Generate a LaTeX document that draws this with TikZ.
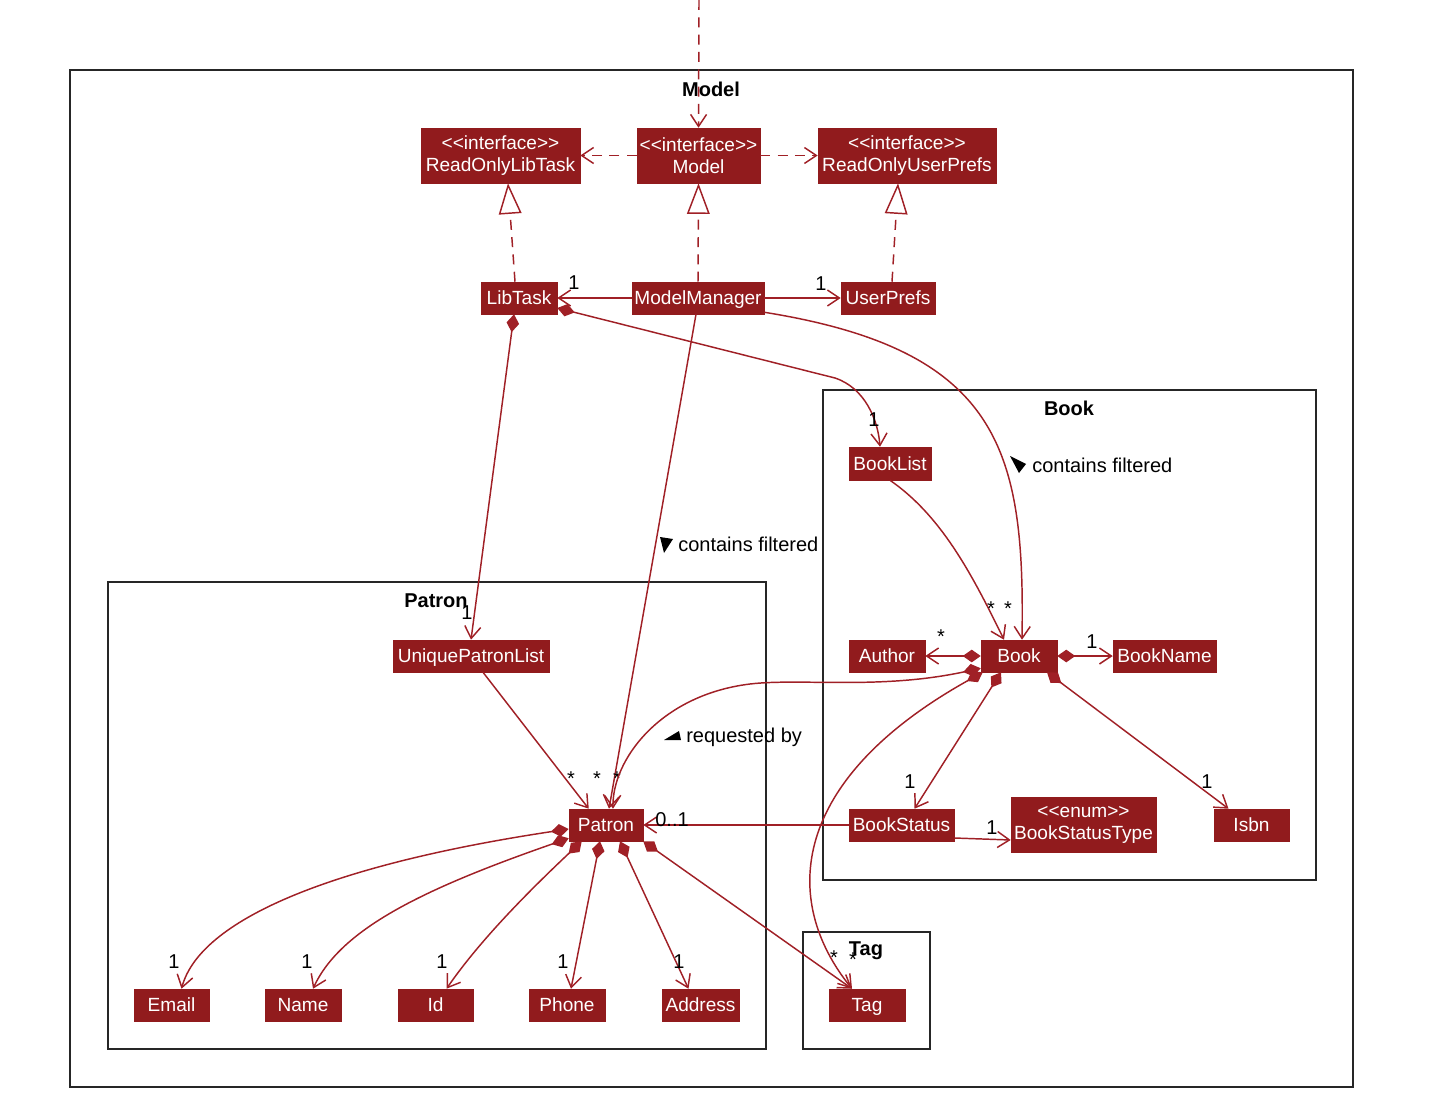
\documentclass[tikz,border=0pt]{standalone}
\usepackage{fontspec}
\setmainfont{Liberation Sans}
\usetikzlibrary{arrows.meta,calc}
\definecolor{umlfill}{RGB}{145,27,29}
\definecolor{umlline}{RGB}{160,32,38}
\newcommand{\stereo}[1]{\textless\kern0pt\textless\kern0pt #1\kern0pt\textgreater\kern0pt\textgreater}
\begin{document}
\begin{tikzpicture}[x=0.75pt,y=-0.75pt,
  cls2/.style={fill=umlfill, draw=umlfill, text=white, font=\fontsize{14.3}{16.5}\selectfont,
    inner sep=0pt, minimum height=41.25pt, align=center},
  cls/.style={fill=umlfill, draw=umlfill, text=white, font=\fontsize{14.3}{16.5}\selectfont,
    inner sep=0pt, minimum height=24pt, text height=10.3pt, text depth=0.5pt},
  pkg/.style={draw=black!85, line width=1.5pt},
  ptitle/.style={font=\fontsize{15}{17}\selectfont\bfseries, text=black, inner sep=0pt},
  lbl/.style={font=\fontsize{15}{17}\selectfont, text=black, inner sep=0pt},
  conn/.style={draw=umlline, line width=1.1pt},
  dep/.style={conn, dash pattern=on 7.5pt off 5.5pt},
  va/.style={-{Straight Barb[length=9pt,width=12pt]}},
  comp/.style={{Diamond[length=13.5pt,width=9.5pt]}-{Straight Barb[length=9pt,width=12pt]}},
  real/.style={-{Triangle[open,length=23pt,width=17pt,fill=white]}},
  tri/.style={fill=black}
]
\useasboundingbox (0,0) rectangle (1430,1116);

% packages
\draw[pkg] (70,70) rectangle (1353,1087);
\node[ptitle] (tModel) at (711,89) {Model};
\draw[pkg] (823,390) rectangle (1316,880);
\node[ptitle] (tBook) at (1069,408) {Book};
\draw[pkg] (108,582) rectangle (766,1049);
\node[ptitle] (tPatron) at (436,601) {Patron};
\draw[pkg] (803,932) rectangle (930,1049);
\node[ptitle] (tTag) at (866,951) {Tag};

% classes
\node[cls2, minimum width=119.25pt] (rolt) at (500.5,155.5) {\stereo{interface}\\ReadOnlyLibTask};
\node[cls2, minimum width=92.25pt] (model) at (698.5,155.5) {\stereo{interface}\\Model};
\node[cls2, minimum width=133.5pt] (roup) at (907,155.5) {\stereo{interface}\\ReadOnlyUserPrefs};
\node[cls, minimum width=57pt] (libtask) at (519,298) {LibTask};
\node[cls, minimum width=99pt] (mm) at (698,298) {ModelManager};
\node[cls, minimum width=70.5pt] (up) at (888,298) {UserPrefs};
\node[cls, minimum width=61.5pt, minimum height=24.75pt] (booklist) at (890,463.5) {BookList};
\node[cls, minimum width=57pt] (book) at (1019,656) {Book};
\node[cls, minimum width=57pt] (author) at (887,656) {Author};
\node[cls, minimum width=77.25pt] (bookname) at (1164.5,656) {BookName};
\node[cls, minimum width=78.75pt] (bstatus) at (901.5,825) {BookStatus};
\node[cls2, minimum width=108.75pt] (bstype) at (1083.5,825) {\stereo{enum}\\BookStatusType};
\node[cls, minimum width=56.25pt] (isbn) at (1251.5,825) {Isbn};
\node[cls, minimum width=117pt] (upl) at (471,656) {UniquePatronList};
\node[cls, minimum width=55.5pt] (patron) at (606,825) {Patron};
\node[cls, minimum width=56.25pt] (email) at (171.5,1005) {Email};
\node[cls, minimum width=57pt] (name) at (303,1005) {Name};
\node[cls, minimum width=56.25pt] (id) at (435.5,1005) {Id};
\node[cls, minimum width=57pt] (phone) at (567,1005) {Phone};
\node[cls, minimum width=57.75pt] (address) at (700.5,1005) {Address};
\node[cls, minimum width=57pt] (tag) at (867,1005) {Tag};

\coordinate (top) at (699,0);

% dependencies
\draw[dep, va] (top) -- (model.north);
\draw[dep, va] (model.west) -- (rolt.east);
\draw[dep, va] (model.east) -- (roup.west);
% realizations
\draw[dep, real] ($(libtask.north)+(-4,0)$) -- ($(rolt.south)+(7.5,0)$);
\draw[dep, real] (mm.north) -- (model.south);
\draw[dep, real] ($(up.north)+(4,0)$) -- ($(roup.south)+(-9,0)$);

% associations
\draw[conn, va] (mm.west) -- (libtask.east);
\node[lbl] (m1) at (574,283) {1};
\draw[conn, va] (mm.east) -- (up.west);
\node[lbl] (m2) at (821,284) {1};

\draw[conn, comp] ($(libtask.south)+(-5,0)$) -- (upl.north);
\node[lbl] (m3) at (467,613) {1};

\draw[conn, comp] ($(libtask.east)+(0,10)$) -- (835,378) .. controls (865,388) and (878,420) .. ($(booklist.north)+(-10,0)$);
\node[lbl] (m4) at (874,420) {1};

\draw[conn, va] ($(mm.south)+(-2,0)$) -- ($(patron.north)+(3,0)$);
\fill[tri] (660,537) -- (673,539) -- (664,553) -- cycle;
\node[lbl, anchor=west] (cf1) at (678,544) {contains filtered};
\node[lbl] (m5) at (617,779) {*};

\draw[conn, va] ($(mm.south east)+(0,-2)$) .. controls (1000,350) and (1025,450) .. ($(book.north)+(3,0)$);
\fill[tri] (1010,456) -- (1026,464) -- (1019,473) -- cycle;
\node[lbl, anchor=west] (cf2) at (1032,465) {contains filtered};
\node[lbl] (m6) at (1008,609) {*};

\draw[conn, va] (booklist.south) .. controls (940,515) and (970,570) .. ($(book.north)+(-15,0)$);
\node[lbl] (m7) at (991,609) {*};

\draw[conn, comp] (book.west) -- (author.east);
\node[lbl] (m8) at (941,637) {*};
\draw[conn, comp] (book.east) -- (bookname.west);
\node[lbl] (m9) at (1092,642) {1};
\draw[conn, comp] ($(book.south)+(-18,0)$) -- ($(bstatus.north)+(13,0)$);
\node[lbl] (m10) at (910,782) {1};
\draw[conn, comp] ($(book.south)+(28,0)$) -- ($(isbn.north)+(-23,0)$);
\node[lbl] (m11) at (1207,782) {1};

\draw[conn, comp] ($(book.south west)+(0,-4)$) .. controls (880,690) and (800,678) .. (750,684) .. controls (660,695) and (612,760) .. ($(patron.north)+(7,0)$);
\fill[tri] (664,740) -- (681,740) -- (679,731) -- cycle;
\node[lbl, anchor=west] (rb) at (686,737) {requested by};
\node[lbl] (m12) at (597,779) {*};

\draw[conn, comp] ($(book.south west)+(2,0)$) .. controls (790,780) and (780,900) .. ($(tag.north)+(-15,0)$);
\node[lbl] (m13) at (853,960) {*};

\draw[conn, va] ($(upl.south)+(12,0)$) -- ($(patron.north west)+(20,0)$);
\node[lbl] (m14) at (571,779) {*};

\draw[conn, va] (bstatus.west) -- (patron.east);
\node[lbl] (m15) at (672,820) {0..1};
\draw[conn, va] ($(bstatus.east)+(0,13)$) -- ($(bstype.west)+(0,15)$);
\node[lbl] (m16) at (992,828) {1};

% patron compositions
\draw[conn, comp] ($(patron.west)+(0,4)$) .. controls (330,865) and (200,920) .. ($(email.north)+(10,0)$);
\node[lbl] (m17) at (174,962) {1};
\draw[conn, comp] ($(patron.south west)+(0,-3)$) .. controls (420,890) and (340,930) .. ($(name.north)+(10,0)$);
\node[lbl] (m18) at (307,962) {1};
\draw[conn, comp] ($(patron.south west)+(13,0)$) .. controls (530,890) and (480,940) .. ($(id.north)+(11,0)$);
\node[lbl] (m19) at (442,962) {1};
\draw[conn, comp] ($(patron.south)+(-6,0)$) -- ($(phone.north)+(4,0)$);
\node[lbl] (m20) at (563,962) {1};
\draw[conn, comp] ($(patron.south)+(14,0)$) -- ($(address.north)+(-12,0)$);
\node[lbl] (m21) at (679,962) {1};
\draw[conn, comp] (patron.south east) -- ($(tag.north)+(-15,0)$);
\node[lbl] (m22) at (834,958) {*};
\end{tikzpicture}
\end{document}
